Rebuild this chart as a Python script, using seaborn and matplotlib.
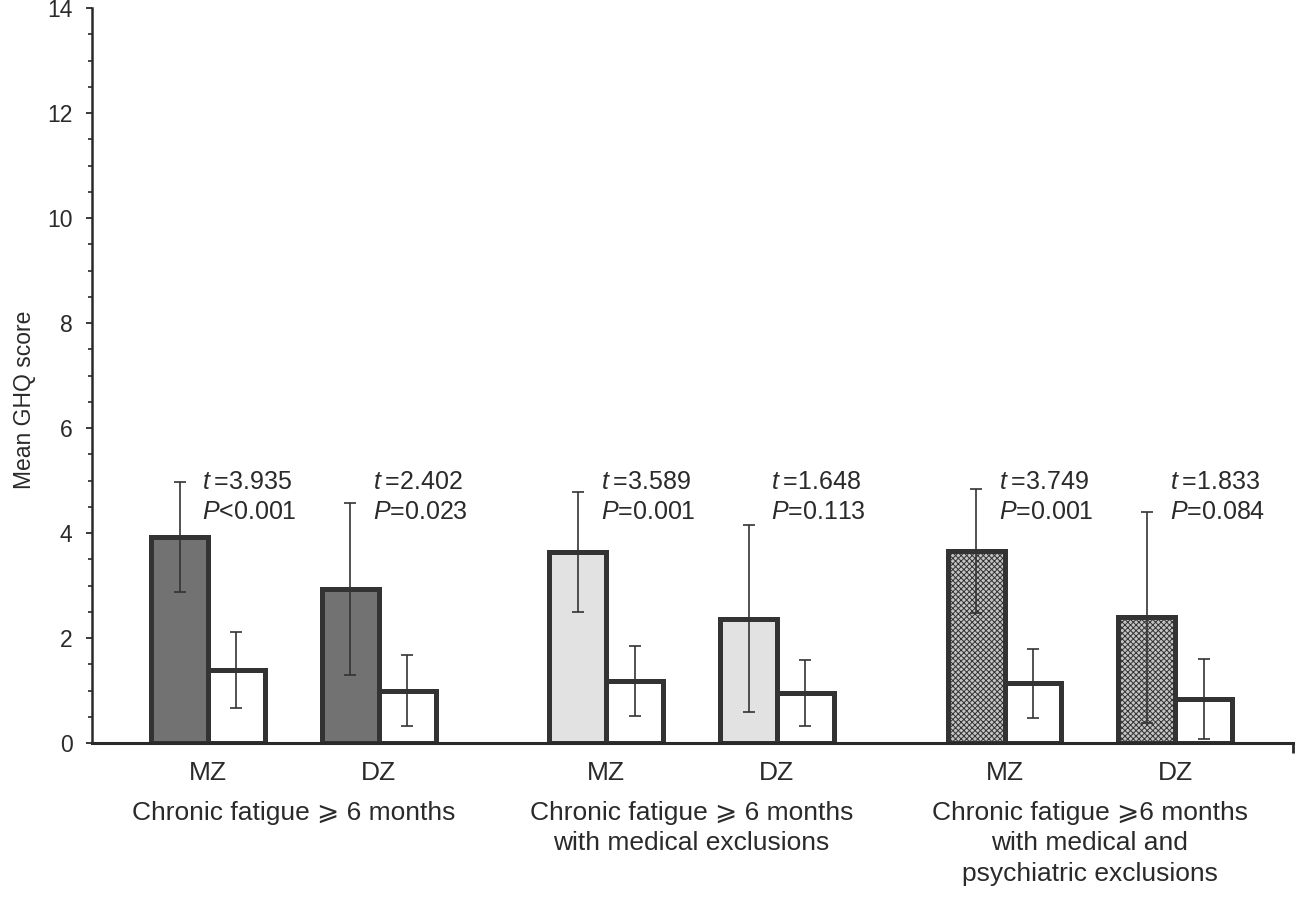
import numpy as np
import pandas as pd
import matplotlib.pyplot as plt
import seaborn as sns
from matplotlib.ticker import MultipleLocator

# valeurs
positions = [0, 3, 7, 10, 14, 17]
zygosity = ["MZ", "DZ", "MZ", "DZ", "MZ", "DZ"]
groups = [
    "Chronic fatigue \u2a7e 6 months",
    "Chronic fatigue \u2a7e 6 months\nwith medical exclusions",
    "Chronic fatigue \u2a7e6 months\nwith medical and\npsychiatric exclusions",
]
case_mean = [3.93, 2.94, 3.64, 2.37, 3.66, 2.40]
case_err = [1.05, 1.64, 1.15, 1.78, 1.18, 2.01]
cotwin_mean = [1.39, 1.00, 1.18, 0.95, 1.14, 0.84]
cotwin_err = [0.72, 0.68, 0.66, 0.63, 0.66, 0.77]
t_values = ["3.935", "2.402", "3.589", "1.648", "3.749", "1.833"]
p_values = ["<0.001", "=0.023", "=0.001", "=0.113", "=0.001", "=0.084"]

sns.set_theme(style="ticks")
plt.rcParams["font.family"] = ["Liberation Sans", "DejaVu Sans"]
plt.rcParams["mathtext.fontset"] = "custom"
plt.rcParams["mathtext.it"] = "Liberation Sans:italic"
plt.rcParams["mathtext.rm"] = "Liberation Sans"
plt.rcParams["hatch.linewidth"] = 0.7

ink = "#2a2a2a"
xmax = 19.07

df = pd.DataFrame({
    "pos": positions * 2,
    "twin": ["Case"] * 6 + ["Co-twin"] * 6,
    "score": case_mean + cotwin_mean,
})

fig = plt.figure(figsize=(13.03, 8.99), dpi=100)
ax = fig.add_axes([0.0706, 0.1735, 0.9217, 0.8175])

sns.barplot(data=df, x="pos", y="score", hue="twin", hue_order=["Case", "Co-twin"],
            native_scale=True, width=2 / 3, errorbar=None,
            palette=["#777777", "white"], edgecolor="#333333", linewidth=3.6,
            legend=False, ax=ax)

# remplissage par groupe
faces = ["#727272", "#e2e2e2", "#c4c4c4"]
for bar, pos in zip(ax.containers[0], positions):
    g = positions.index(pos) // 2
    bar.set_facecolor(faces[g])
    if g == 2:
        bar.set_hatch("xxxxxx")

x = np.array(positions, dtype=float)
ax.errorbar(x - 0.5, case_mean, yerr=case_err, fmt="none", ecolor="#333333",
            elinewidth=1.2, capsize=4, capthick=1.2, zorder=3)
ax.errorbar(x + 0.5, cotwin_mean, yerr=cotwin_err, fmt="none", ecolor="#333333",
            elinewidth=1.2, capsize=4, capthick=1.2, zorder=3)

for pos, t, p in zip(positions, t_values, p_values):
    ax.text(pos - 0.1, 4.97, "$t$\u2009=" + t, fontsize=18, color=ink, va="center", ha="left")
    ax.text(pos - 0.1, 4.40, "$P$" + p, fontsize=18, color=ink, va="center", ha="left")

for i, label in enumerate(groups):
    cx = (positions[2 * i] + positions[2 * i + 1]) / 2
    ax.annotate(label, xy=(cx, 0), xycoords=("data", "axes fraction"),
                xytext=(0, -42), textcoords="offset points",
                ha="center", va="top", fontsize=19, color=ink, linespacing=1.32)

ax.set_xlim(-2.04, xmax)
ax.set_ylim(0, 14)
ax.set_xticks(positions)
ax.set_xticklabels(zygosity)
ax.set_xticks([xmax], minor=True)
ax.yaxis.set_major_locator(MultipleLocator(2))
ax.yaxis.set_minor_locator(MultipleLocator(0.5))
ax.tick_params(axis="x", which="major", length=0, pad=13, labelsize=19, colors=ink)
ax.tick_params(axis="x", which="minor", length=7, width=2, colors=ink)
ax.tick_params(axis="y", which="major", length=4, width=1.3, pad=10, labelsize=16.5, colors=ink)
ax.tick_params(axis="y", which="minor", length=3, width=1.2, colors=ink)
ax.set_xlabel("")
ax.set_ylabel("Mean GHQ score", fontsize=16.5, color=ink)
ax.yaxis.set_label_coords(-0.0467, 0.467)

sns.despine(ax=ax)
ax.spines["left"].set_linewidth(1.8)
ax.spines["bottom"].set_linewidth(2.2)
ax.spines["left"].set_color(ink)
ax.spines["bottom"].set_color(ink)

fig.savefig("out.png", dpi=100)
